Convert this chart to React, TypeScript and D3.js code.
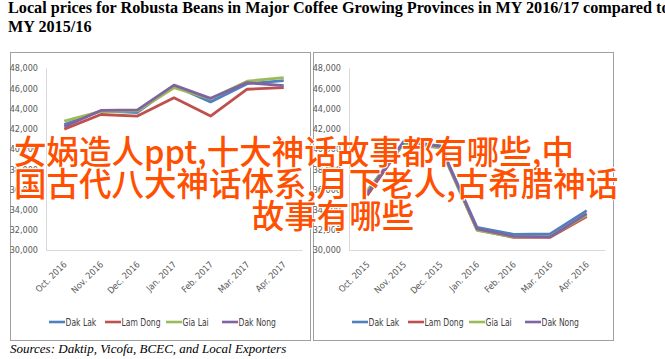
import React, { useEffect, useRef } from 'react';
import * as d3 from 'd3';

// categories
const months1617 = ['Oct. 2016', 'Nov. 2016', 'Dec. 2016', 'Jan. 2017', 'Feb. 2017', 'Mar. 2017', 'Apr. 2017'];
const months1516 = ['Oct. 2015', 'Nov. 2015', 'Dec. 2015', 'Jan. 2016', 'Feb. 2016', 'Mar. 2016', 'Apr. 2016'];
const provinces = ['Dak Lak', 'Lam Dong', 'Gia Lai', 'Dak Nong'];
const colors = ['#4f81bd', '#c0504d', '#9bbb59', '#8064a2'];

// MY 2016/17 prices (VND/kg)
const dakLak1617 = [42400, 43750, 43600, 46250, 44650, 46450, 46750];
const lamDong1617 = [41950, 43400, 43250, 45050, 43250, 45900, 46050];
const giaLai1617 = [42750, 43700, 43750, 46050, 44950, 46700, 47050];
const dakNong1617 = [42200, 43800, 43850, 46300, 45000, 46550, 46250];

// MY 2015/16 prices (VND/kg)
const dakLak1516 = [35700, 40750, 40300, 32250, 31550, 31600, 33900];
const lamDong1516 = [35400, 40600, 40150, 32000, 31250, 31250, 33300];
const giaLai1516 = [35900, 40500, 40100, 31950, 31300, 31350, 33450];
const dakNong1516 = [35600, 40700, 40250, 32100, 31350, 31300, 33600];

const yTicks = [30000, 32000, 34000, 36000, 38000, 40000, 42000, 44000, 46000, 48000];

const titleLines = [
  'Local prices for Robusta Beans in Major Coffee Growing Provinces in MY 2016/17 compared to',
  'MY 2015/16',
];
const sourceText = 'Sources: Daktip, Vicofa, BCEC, and Local Exporters';
const overlayLines = [
  '女娲造人ppt,十大神话故事都有哪些,中',
  '国古代八大神话体系,月下老人,古希腊神话',
  '故事有哪些',
];

const narrow = '"Liberation Sans Narrow", "DejaVu Sans Condensed", "Arial Narrow", sans-serif';

const App = () => {
  const ref = useRef(null);

  useEffect(() => {
    if (!ref.current) return;
    const svg = d3.select(ref.current);
    svg.selectAll('*').remove();

    // title
    titleLines.forEach((t, i) => {
      svg.append('text')
        .attr('x', 8)
        .attr('y', 13 + i * 18.5)
        .attr('font-family', '"Liberation Serif", "Times New Roman", serif')
        .attr('font-weight', 'bold')
        .attr('font-size', 16.2)
        .attr('fill', '#000')
        .text(t);
    });

    const panels = [
      { x: 10, months: months1617, series: [dakLak1617, lamDong1617, giaLai1617, dakNong1617] },
      { x: 313, months: months1516, series: [dakLak1516, lamDong1516, giaLai1516, dakNong1516] },
    ];
    const legendOffsets = [39, 95, 156, 212];

    panels.forEach(p => {
      const g = svg.append('g').attr('transform', `translate(${p.x},52)`);

      g.append('rect')
        .attr('x', 0.5).attr('y', 0.5)
        .attr('width', 300).attr('height', 288)
        .attr('fill', '#fff')
        .attr('stroke', '#a0a0a0');

      const x = d3.scaleBand().domain(p.months).range([36, 292]);
      const y = d3.scaleLinear().domain([30000, 48000]).range([198, 16]);
      const cx = (i: number) => (x(p.months[i]) as number) + x.bandwidth() / 2;

      // y axis
      const ya = g.append('g')
        .attr('transform', 'translate(36,0)')
        .call(d3.axisLeft(y).tickValues(yTicks).tickFormat(d3.format(',')).tickSize(0).tickPadding(8));
      ya.select('.domain').attr('stroke', '#d9d9d9');
      ya.selectAll('text')
        .attr('font-family', narrow)
        .attr('font-size', 9)
        .attr('fill', '#595959');

      // x axis
      const xa = g.append('g')
        .attr('transform', 'translate(0,198)')
        .call(d3.axisBottom(x).tickSize(0));
      xa.select('.domain').attr('stroke', '#d9d9d9');
      xa.selectAll('text')
        .attr('x', 0).attr('y', 0).attr('dy', 0)
        .attr('text-anchor', 'end')
        .attr('transform', 'translate(3,15) rotate(-45)')
        .attr('font-family', narrow)
        .attr('font-size', 9)
        .attr('fill', '#595959');

      // lines
      const line = d3.line<number>()
        .x((d, i) => cx(i))
        .y(d => y(d));
      p.series.forEach((s, k) => {
        g.append('path')
          .datum(s)
          .attr('fill', 'none')
          .attr('stroke', colors[k])
          .attr('stroke-width', 2.8)
          .attr('stroke-linejoin', 'round')
          .attr('d', line);
      });

      // legend
      provinces.forEach((name, k) => {
        const lg = g.append('g').attr('transform', `translate(${legendOffsets[k]},270)`);
        lg.append('line')
          .attr('x1', 0).attr('x2', 16)
          .attr('stroke', colors[k])
          .attr('stroke-width', 2.6);
        lg.append('text')
          .attr('transform', 'translate(16.5,3.5) scale(0.85,1)')
          .attr('font-family', narrow)
          .attr('font-size', 10)
          .attr('fill', '#404040')
          .text(name);
      });
    });

    // source
    svg.append('text')
      .attr('x', 10)
      .attr('y', 353)
      .attr('font-family', '"Liberation Serif", "Times New Roman", serif')
      .attr('font-style', 'italic')
      .attr('font-size', 13)
      .attr('fill', '#000')
      .text(sourceText);

    // overlay text
    const overlayPos = [
      { x: 14, y: 164, anchor: 'start' },
      { x: 14, y: 196, anchor: 'start' },
      { x: 333, y: 228, anchor: 'middle' },
    ];
    overlayLines.forEach((t, i) => {
      svg.append('text')
        .attr('x', overlayPos[i].x)
        .attr('y', overlayPos[i].y)
        .attr('text-anchor', overlayPos[i].anchor)
        .attr('font-family', '"Noto Sans CJK SC", sans-serif')
        .attr('font-size', 32.5)
        .attr('font-weight', 500)
        .attr('fill', '#ff4f00')
        .attr('stroke', '#fff')
        .attr('stroke-width', 2)
        .attr('paint-order', 'stroke')
        .text(t);
    });
  }, []);

  return (
    <div style={{ position: 'absolute', left: 0, top: 0 }}>
      <svg ref={ref} width={665} height={359} style={{ display: 'block', background: '#fff' }} />
    </div>
  );
};

export default App;
